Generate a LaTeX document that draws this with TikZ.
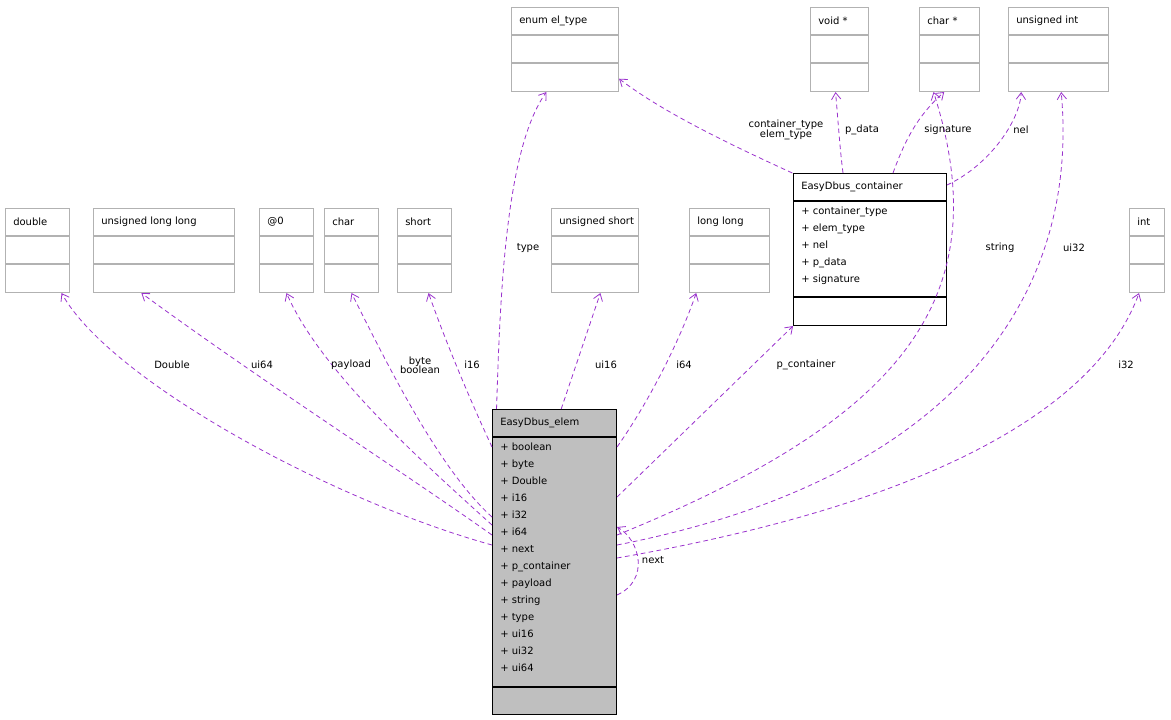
\documentclass[tikz,border=0pt]{standalone}
\usepackage{fontspec}
\setmainfont{DejaVu Sans}
\usetikzlibrary{arrows.meta}
\definecolor{edgepurple}{HTML}{9A32CD}
\definecolor{elemgray}{HTML}{BFBFBF}
\tikzset{
  gbox/.style={draw=black!30, line width=0.8pt, inner sep=0pt},
  rel/.style={edgepurple, dashed, line width=0.6pt, dash pattern=on 3.5pt off 2.5pt, -{Straight Barb[length=5pt,width=7pt]}},
  lbl/.style={font=\fontsize{7.5}{9}\selectfont, inner sep=1pt, align=center},
  ttl/.style={font=\fontsize{7.5}{9}\selectfont, anchor=west, inner sep=0pt}
}
% gray class box: name, x, y, width, title
\newcommand{\classbox}[5]{%
  \node[gbox, minimum width=#4*0.75pt, minimum height=84*0.75pt, anchor=north west] (#1) at (#2,#3) {};
  \draw[black!30, line width=0.8pt] ([yshift=-21pt]#1.north west) -- ([yshift=-21pt]#1.north east);
  \draw[black!30, line width=0.8pt] ([yshift=-42pt]#1.north west) -- ([yshift=-42pt]#1.north east);
  \node[ttl] at ([xshift=6pt,yshift=-10.5pt]#1.north west) {#5};
}
\begin{document}
\begin{tikzpicture}[x=0.75pt, y=-0.75pt]
  \useasboundingbox (0,0) rectangle (1171,720);
  % top row
  \classbox{enumtype}{511}{7}{107}{enum el\_type}
  \classbox{voidptr}{810}{7}{58}{void *}
  \classbox{charptr}{919}{7}{60}{char *}
  \classbox{uint}{1008}{7}{100}{unsigned int}
  % middle row
  \classbox{dbl}{5}{208}{64}{double}
  \classbox{ulonglong}{93}{208}{141}{unsigned long long}
  \classbox{anon}{259}{208}{54}{@0}
  \classbox{chr}{324}{208}{54}{char}
  \classbox{shrt}{397}{208}{54}{short}
  \classbox{ushort}{551}{208}{87}{unsigned short}
  \classbox{longlong}{689}{208}{80}{long long}
  \classbox{integer}{1129}{208}{35}{int}
  % EasyDbus_container
  \node[draw=black, fill=white, line width=0.8pt, minimum width=153*0.75pt, minimum height=152*0.75pt, anchor=north west, inner sep=0pt] (container) at (793,173) {};
  \draw[line width=0.8pt] ([yshift=-21pt]container.north west) -- ([yshift=-21pt]container.north east);
  \draw[line width=0.8pt] ([yshift=-93pt]container.north west) -- ([yshift=-93pt]container.north east);
  \node[ttl] at ([xshift=6pt,yshift=-10.5pt]container.north west) {EasyDbus\_container};
  \node[ttl, anchor=north west, align=left, font=\fontsize{7.5}{12.75}\selectfont] at ([xshift=6pt,yshift=-25pt]container.north west)
    {+ container\_type\\+ elem\_type\\+ nel\\+ p\_data\\+ signature};
  % EasyDbus_elem
  \node[draw=black, fill=elemgray, line width=0.8pt, minimum width=124*0.75pt, minimum height=305*0.75pt, anchor=north west, inner sep=0pt] (elem) at (492,409) {};
  \draw[line width=0.8pt] ([yshift=-21pt]elem.north west) -- ([yshift=-21pt]elem.north east);
  \draw[line width=0.8pt] ([yshift=-208.5pt]elem.north west) -- ([yshift=-208.5pt]elem.north east);
  \node[ttl] at ([xshift=6pt,yshift=-10.5pt]elem.north west) {EasyDbus\_elem};
  \node[ttl, anchor=north west, align=left, font=\fontsize{7.5}{12.75}\selectfont] at ([xshift=6pt,yshift=-25pt]elem.north west)
    {+ boolean\\+ byte\\+ Double\\+ i16\\+ i32\\+ i64\\+ next\\+ p\_container\\+ payload\\+ string\\+ type\\+ ui16\\+ ui32\\+ ui64};
  % relations of EasyDbus_elem
  \draw[rel] ([yshift=-102pt]elem.north west) .. controls (330,500) and (110,380) .. ([xshift=18pt]dbl.south);
  \draw[rel] ([yshift=-94.5pt]elem.north west) .. controls (400,470) and (260,380) .. ([xshift=-17pt]ulonglong.south);
  \draw[rel] ([yshift=-87pt]elem.north west) .. controls (420,460) and (320,370) .. (anon.south);
  \draw[rel] ([yshift=-81pt]elem.north west) .. controls (440,470) and (390,370) .. (chr.south);
  \draw[rel] ([yshift=-28.5pt]elem.north west) .. controls (470,400) and (445,340) .. ([xshift=3pt]shrt.south);
  \draw[rel] ([xshift=-43.5pt]elem.north) .. controls (500,300) and (505,150) .. ([xshift=-14pt]enumtype.south);
  \draw[rel] ([xshift=5pt]elem.north) -- ([xshift=4pt]ushort.south);
  \draw[rel] ([yshift=-28.5pt]elem.north east) .. controls (650,400) and (680,340) .. ([xshift=-25pt]longlong.south);
  \draw[rel] ([yshift=-66pt]elem.north east) -- (container.south west);
  \draw[rel] ([yshift=-94.5pt]elem.north east) .. controls (900,420) and (1000,300) .. ([xshift=-12pt]charptr.south);
  \draw[rel] ([yshift=-102pt]elem.north east) .. controls (950,480) and (1080,300) .. ([xshift=2pt]uint.south);
  \draw[rel] ([yshift=-111.75pt]elem.north east) .. controls (950,500) and (1100,400) .. ([xshift=-6pt]integer.south);
  \draw[rel] ([yshift=-139.5pt]elem.north east) .. controls (650,580) and (640,540) .. ([yshift=-88.5pt]elem.north east);
  % relations of EasyDbus_container
  \draw[rel] ([xshift=-0.5pt]container.north west) .. controls (720,140) and (660,110) .. ([yshift=10pt]enumtype.south east);
  \draw[rel] ([xshift=37.5pt]container.north west) .. controls (840,150) and (838,120) .. ([xshift=-3pt]voidptr.south);
  \draw[rel] ([xshift=75pt]container.north west) .. controls (905,140) and (918,115) .. ([xshift=-4pt]charptr.south);
  \draw[rel] ([yshift=-9pt]container.north east) .. controls (990,165) and (1020,120) .. ([xshift=-28pt]uint.south);
  % labels
  \node[lbl] at (172,365) {Double};
  \node[lbl] at (262,365) {ui64};
  \node[lbl] at (351,365) {payload};
  \node[lbl] at (420,365) {byte\\[-2pt]boolean};
  \node[lbl] at (472,365) {i16};
  \node[lbl] at (528,248) {type};
  \node[lbl] at (606,365) {ui16};
  \node[lbl] at (684,365) {i64};
  \node[lbl] at (806,365) {p\_container};
  \node[lbl] at (1000,248) {string};
  \node[lbl] at (1074,248) {ui32};
  \node[lbl] at (1126,365) {i32};
  \node[lbl] at (653,560) {next};
  \node[lbl] at (786,130) {container\_type\\[-2pt]elem\_type};
  \node[lbl] at (862,130) {p\_data};
  \node[lbl] at (948,130) {signature};
  \node[lbl] at (1021,130) {nel};
\end{tikzpicture}
\end{document}
